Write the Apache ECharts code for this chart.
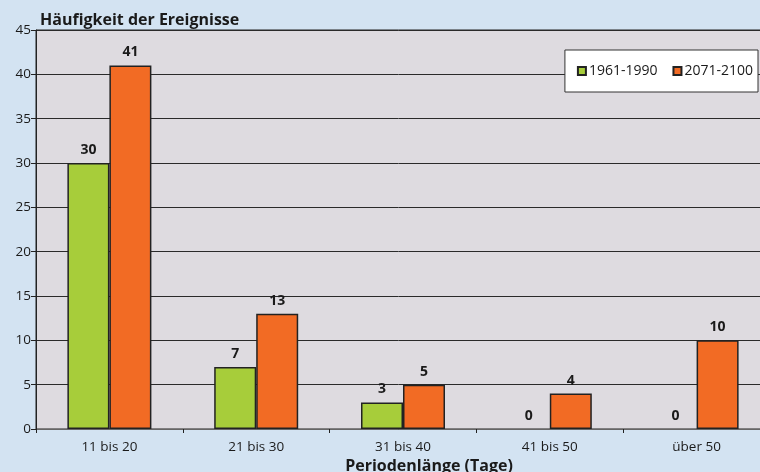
<!DOCTYPE html>
<html><head><meta charset="utf-8">
<script src="https://cdn.jsdelivr.net/npm/echarts@6/dist/echarts.min.js"></script>
<style>html,body{margin:0;padding:0;background:#d3e3f2;}#c{width:760px;height:472px;}</style>
</head><body><div id="c"></div>
<script>
const categories = ['11 bis 20', '21 bis 30', '31 bis 40', '41 bis 50', 'über 50'];
const series1961 = [30, 7, 3, 0, 0];
const series2071 = [41, 13, 5, 4, 10];
const seriesNames = ['1961-1990', '2071-2100'];
const yTicks = { min: 0, max: 45, interval: 5 };
const titleText = 'Häufigkeit der Ereignisse';
const xAxisTitle = 'Periodenlänge (Tage)';

const FONT = '"Open Sans", sans-serif';
const chart = echarts.init(document.getElementById('c'));
const labelCfg = { show: true, position: 'top', distance: 6, fontFamily: FONT, fontSize: 14, fontWeight: 'bold', color: '#1a1a1a' };
// zero-height bars have no visible outline in the reference
const toItems = arr => arr.map(v => v === 0 ? { value: v, itemStyle: { borderWidth: 0 } } : v);
chart.setOption({
  backgroundColor: '#d3e3f2',
  animation: false,
  title: { text: titleText, left: 40, top: 12, padding: 0,
    textStyle: { fontFamily: FONT, fontSize: 16, fontWeight: 'bold', color: '#1a1a1a' } },
  legend: {
    right: 2, top: 50, orient: 'horizontal',
    backgroundColor: '#ffffff', borderColor: '#333', borderWidth: 1,
    padding: [14, 5, 14, 12],
    itemWidth: 8, itemHeight: 8, itemGap: 15,
    icon: 'rect',
    textStyle: { fontFamily: FONT, fontSize: 14, color: '#1a1a1a', padding: [0, 0, 0, -2] }
  },
  grid: { left: 36, right: -10, top: 30, bottom: 43, outerBoundsMode: 'none', containLabel: false,
    show: true, backgroundColor: '#dedbe0', borderColor: '#222', borderWidth: 1 },
  xAxis: {
    type: 'category', data: categories,
    axisLine: { lineStyle: { color: '#666', width: 1 } },
    axisTick: { show: true, length: 4, lineStyle: { color: '#222' } },
    axisLabel: { fontFamily: FONT, fontSize: 13.5, color: '#1a1a1a', margin: 11 },
    name: xAxisTitle, nameLocation: 'middle', nameGap: 26,
    nameTextStyle: { fontFamily: FONT, fontSize: 16, fontWeight: 'bold', color: '#1a1a1a', padding: [0, 0, 0, 52] }
  },
  yAxis: {
    type: 'value', min: yTicks.min, max: yTicks.max, interval: yTicks.interval,
    axisLine: { show: true, lineStyle: { color: '#222', width: 1 } },
    axisTick: { show: true, length: 5, lineStyle: { color: '#222' } },
    axisLabel: { fontFamily: FONT, fontSize: 13.5, color: '#1a1a1a', margin: 5 },
    splitLine: { lineStyle: { color: '#2a2a2a', width: 1 } }
  },
  series: [
    { name: seriesNames[0], type: 'bar', data: toItems(series1961), barWidth: 42, barGap: '0%',
      itemStyle: { color: '#a7cd3a', borderColor: '#222', borderWidth: 1.5 }, label: labelCfg },
    { name: seriesNames[1], type: 'bar', data: toItems(series2071), barWidth: 42, barGap: '0%',
      itemStyle: { color: '#f26b24', borderColor: '#222', borderWidth: 1.5 }, label: labelCfg }
  ]
});
</script></body></html>
